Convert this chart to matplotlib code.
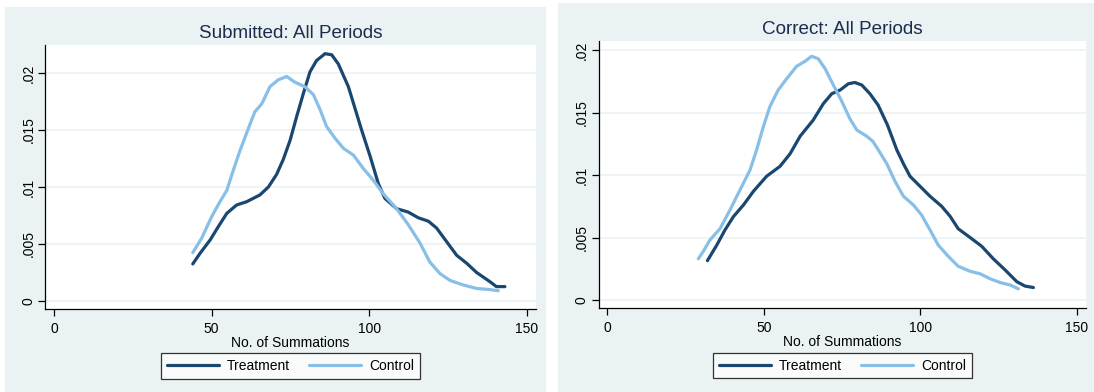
import matplotlib.pyplot as plt
from matplotlib.patches import Rectangle

plt.rcParams['font.family'] = ['Liberation Sans', 'DejaVu Sans']

# --- Data (kernel density curves) ---
sub_treat_x = [44.0, 46.3, 49.5, 52.1, 54.8, 57.9, 61.1, 65.3, 68.0, 70.6, 72.7, 74.9, 77.0, 79.1,
               81.2, 83.3, 86.0, 88.1, 90.2, 93.4, 97.6, 100.3, 102.9, 105.0, 108.7, 112.4, 115.6,
               118.8, 121.4, 124.6, 127.8, 131.0, 134.1, 138.3, 140.4, 143.1]
sub_treat_y = [0.00325, 0.00418, 0.00535, 0.00652, 0.00769, 0.00842, 0.00871, 0.0093, 0.0100,
               0.0111, 0.0124, 0.0141, 0.0162, 0.0182, 0.0201, 0.0211, 0.0217, 0.0216, 0.0208,
               0.0188, 0.0150, 0.0127, 0.0103, 0.0090, 0.0081, 0.0078, 0.0073, 0.0070, 0.0064,
               0.0052, 0.0040, 0.0033, 0.0025, 0.0017, 0.00126, 0.00126]
sub_ctrl_x = [44.0, 46.8, 50.0, 52.6, 54.8, 56.9, 59.0, 61.6, 63.7, 65.9, 68.5, 71.1, 73.8, 76.4,
              79.6, 82.3, 84.4, 86.5, 89.1, 91.8, 95.0, 98.2, 101.3, 104.5, 108.7, 112.4, 116.1,
              119.3, 122.5, 125.7, 129.9, 134.1, 138.3, 141.0]
sub_ctrl_y = [0.00424, 0.0055, 0.0074, 0.0087, 0.0097, 0.0115, 0.0132, 0.0151, 0.0166, 0.0173,
              0.0188, 0.0194, 0.0197, 0.0192, 0.0188, 0.0181, 0.0168, 0.0153, 0.0143, 0.0134,
              0.0128, 0.0116, 0.0106, 0.0094, 0.0081, 0.0067, 0.0051, 0.0034, 0.0024, 0.0018,
              0.0014, 0.0011, 0.0010, 0.0009]

cor_treat_x = [32.0, 35.0, 37.6, 40.3, 43.5, 46.7, 50.9, 55.2, 58.4, 61.6, 65.8, 69.0, 71.7, 74.4,
               77.0, 79.1, 81.3, 83.9, 86.5, 89.5, 92.5, 94.6, 96.7, 99.9, 103.1, 106.8, 109.5,
               112.1, 115.9, 119.6, 123.3, 127.1, 130.8, 133.4, 136.1]
cor_treat_y = [0.00315, 0.0044, 0.0056, 0.00667, 0.0076, 0.0087, 0.0099, 0.0107, 0.0117, 0.0131,
               0.0144, 0.0157, 0.0165, 0.0168, 0.0173, 0.0174, 0.0172, 0.0165, 0.0156, 0.0140,
               0.0120, 0.0109, 0.0099, 0.0091, 0.0083, 0.0075, 0.0067, 0.0057, 0.0050, 0.0043,
               0.0033, 0.0024, 0.00147, 0.00112, 0.0010]
cor_ctrl_x = [29.1, 30.7, 32.8, 36.0, 39.2, 42.4, 45.6, 47.7, 49.9, 52.0, 54.6, 57.3, 60.5, 63.2,
              65.3, 67.4, 69.6, 72.2, 74.9, 77.5, 79.7, 82.9, 84.8, 86.6, 89.3, 91.9, 94.6, 97.8,
              100.4, 103.1, 105.7, 108.9, 112.1, 115.9, 119.1, 122.3, 125.5, 128.7, 131.3]
cor_ctrl_y = [0.0033, 0.0039, 0.0048, 0.0057, 0.0072, 0.0088, 0.0104, 0.0120, 0.0139, 0.0155,
              0.0168, 0.0177, 0.0187, 0.0191, 0.0195, 0.0193, 0.0185, 0.0172, 0.0159, 0.0145,
              0.0136, 0.0131, 0.0127, 0.0120, 0.0109, 0.0095, 0.0083, 0.0076, 0.0068, 0.0056,
              0.0044, 0.0035, 0.0027, 0.0023, 0.0021, 0.0017, 0.0014, 0.0012, 0.0009]

x_ticks = [0, 50, 100, 150]
y_ticks = [0, 0.005, 0.01, 0.015, 0.02]
y_labels = ['0', '.005', '.01', '.015', '.02']

BG = '#EAF2F3'
TREAT = '#1A476F'
CTRL = '#88BFE7'
TITLE = '#1C2C4F'

W, H = 1094, 392
fig = plt.figure(figsize=(W / 100, H / 100), dpi=100)
fig.patch.set_facecolor('white')

# Stata-style graph regions behind each panel
fig.patches.append(Rectangle((5 / W, 0), 541 / W, 385 / H, transform=fig.transFigure,
                             facecolor=BG, edgecolor='none', zorder=-10))
fig.patches.append(Rectangle((558 / W, 0), 536 / W, 389 / H, transform=fig.transFigure,
                             facecolor=BG, edgecolor='none', zorder=-10))


def panel(rect, title, tx, ty, cx, cy, xlim, ylim, title_y, leg_center):
    ax = fig.add_axes(rect)
    ax.set_facecolor('white')
    l1, = ax.plot(tx, ty, color=TREAT, lw=2.3, solid_capstyle='round',
                  solid_joinstyle='round', zorder=3)
    l2, = ax.plot(cx, cy, color=CTRL, lw=2.3, solid_capstyle='round',
                  solid_joinstyle='round', zorder=3)
    ax.set_xlim(*xlim)
    ax.set_ylim(*ylim)
    ax.set_xticks(x_ticks)
    ax.set_yticks(y_ticks)
    ax.set_yticklabels(y_labels, rotation=90, va='center')
    ax.tick_params(axis='both', direction='out', length=5, width=0.9, labelsize=10,
                   colors='black')
    ax.tick_params(axis='x', pad=4)
    ax.tick_params(axis='y', pad=2)
    for s in ['top', 'right']:
        ax.spines[s].set_visible(False)
    for s in ['left', 'bottom']:
        ax.spines[s].set_color('black')
        ax.spines[s].set_linewidth(0.9)
    ax.grid(axis='y', color=BG, lw=1.2)
    ax.set_axisbelow(True)
    ax.set_xlabel('No. of Summations', fontsize=10, labelpad=0)
    cxf = rect[0] + rect[2] / 2
    fig.text(cxf, title_y, title, ha='center', va='center', fontsize=13.6, color=TITLE)
    leg = ax.legend([l1, l2], ['Treatment', 'Control'], ncol=2, loc='center',
                    bbox_to_anchor=leg_center, bbox_transform=fig.transFigure,
                    fontsize=10, frameon=True, fancybox=False, handlelength=3.75,
                    columnspacing=1.34, handletextpad=0.58, borderpad=0.42)
    leg.get_frame().set_edgecolor('black')
    leg.get_frame().set_linewidth(0.9)
    leg.get_frame().set_facecolor('white')
    return ax


panel([45.4 / W, 1 - 309.3 / H, 490.4 / W, 264.3 / H], 'Submitted: All Periods',
      sub_treat_x, sub_treat_y, sub_ctrl_x, sub_ctrl_y,
      (-2.79, 152.9), (-0.00073, 0.02246), 1 - 33.5 / H, (290.6 / W, 1 - 366 / H))

panel([598.5 / W, 1 - 308.3 / H, 487.5 / W, 267.3 / H], 'Correct: All Periods',
      cor_treat_x, cor_treat_y, cor_ctrl_x, cor_ctrl_y,
      (-2.78, 152.9), (-0.00066, 0.02072), 1 - 29 / H, (842.5 / W, 1 - 365.5 / H))

fig.savefig('out.png', dpi=100)
